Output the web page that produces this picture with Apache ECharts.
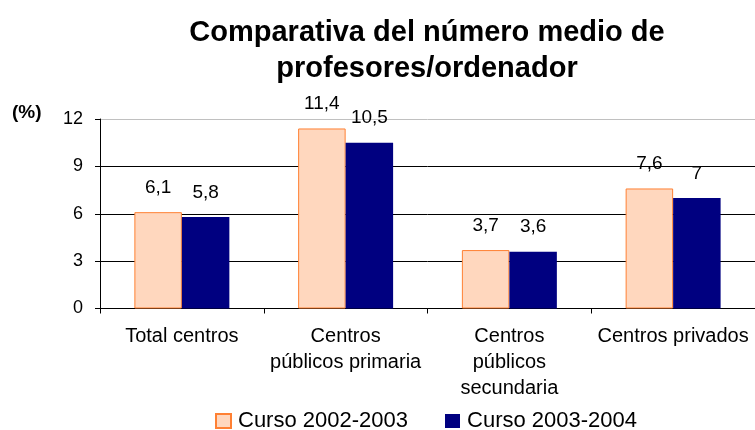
<!DOCTYPE html>
<html>
<head>
<meta charset="utf-8">
<script src="https://cdn.jsdelivr.net/npm/echarts@6/dist/echarts.min.js"></script>
<style>html,body{margin:0;padding:0;background:#fff;}#c{width:755px;height:430px;}</style>
</head>
<body>
<div id="c"></div>
<script>
var categories = ['Total centros', 'Centros\npúblicos primaria', 'Centros\npúblicos\nsecundaria', 'Centros privados'];
var serie2002 = [6.1, 11.4, 3.7, 7.6];
var serie2003 = [5.8, 10.5, 3.6, 7.0];
var seriesNames = ['Curso 2002-2003', 'Curso 2003-2004'];
var yTicks = { min: 0, max: 12, interval: 3 };

var FONT = 'Arial, "Liberation Sans", sans-serif';
function fmt(p) { return String(p.value).replace('.', ','); }

var chart = echarts.init(document.getElementById('c'), null, { renderer: 'canvas' });
chart.setOption({
  animation: false,
  backgroundColor: '#fff',
  title: {
    text: 'Comparativa del número medio de\nprofesores/ordenador',
    left: 427, top: 15, padding: 0, textAlign: 'center',
    textStyle: { fontFamily: FONT, fontWeight: 'bold', fontSize: 29, lineHeight: 36, color: '#000' }
  },
  graphic: [{
    type: 'text', left: 12, top: 103,
    style: { text: '(%)', font: 'bold 19px ' + FONT, fill: '#000' }
  }],
  legend: {
    left: 215, top: 410, padding: 0, itemGap: 37,
    itemWidth: 15, itemHeight: 14, icon: 'rect',
    textStyle: { fontFamily: FONT, fontSize: 22, color: '#000', padding: [0, 0, 0, 2] },
    data: seriesNames
  },
  grid: { left: 100, right: -7, top: 119, bottom: 121.5, containLabel: false },
  xAxis: {
    type: 'category', data: categories,
    axisLine: { lineStyle: { color: '#000', width: 1 } },
    axisTick: { show: true, length: 5, lineStyle: { color: '#000' } },
    axisLabel: { interval: 0, margin: 15, fontFamily: FONT, fontSize: 20, lineHeight: 26, color: '#000' }
  },
  yAxis: {
    type: 'value', min: yTicks.min, max: yTicks.max, interval: yTicks.interval,
    axisLine: { show: true, lineStyle: { color: '#000', width: 1 } },
    axisTick: { show: true, length: 5, lineStyle: { color: '#000' } },
    axisLabel: { margin: 17, fontFamily: FONT, fontSize: 18, color: '#000' },
    splitLine: { show: true, lineStyle: { color: ['#000', '#000', '#000', '#000', '#c0c0c0'], width: 1 } }
  },
  series: [
    {
      name: seriesNames[0], type: 'bar', data: serie2002,
      barGap: '0%', barCategoryGap: '42%',
      itemStyle: { color: '#FFD7BE', borderColor: '#FF8033', borderWidth: 1 },
      label: { show: true, position: 'top', distance: 15, formatter: fmt, fontFamily: FONT, fontSize: 19, color: '#000' }
    },
    {
      name: seriesNames[1], type: 'bar', data: serie2003,
      barGap: '0%', barCategoryGap: '42%',
      itemStyle: { color: '#000080' },
      label: { show: true, position: 'top', distance: 15, formatter: fmt, fontFamily: FONT, fontSize: 19, color: '#000' }
    }
  ]
});
</script>
</body>
</html>
